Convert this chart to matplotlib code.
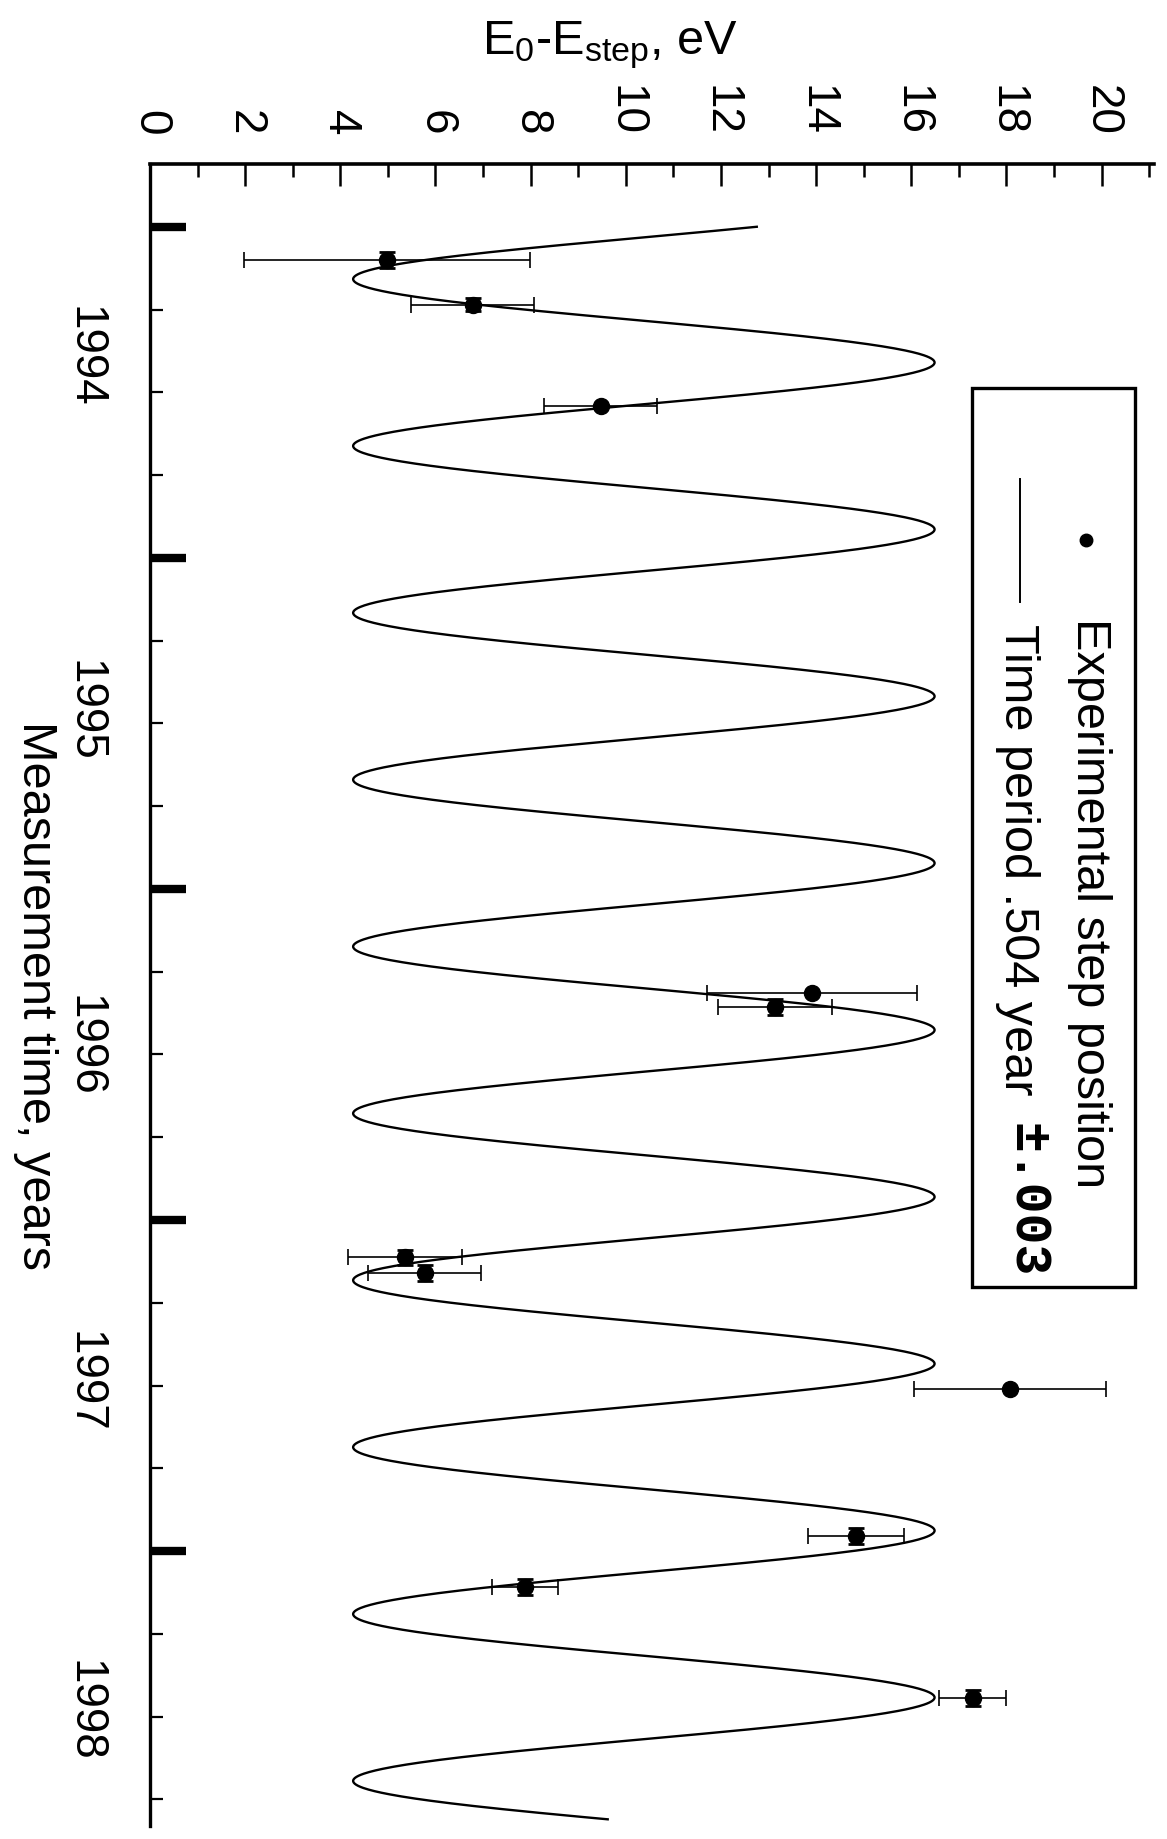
import numpy as np
import matplotlib
matplotlib.use("Agg")
import matplotlib.pyplot as plt
from matplotlib.patches import Rectangle

plt.rcParams['font.family'] = ['Liberation Sans', 'DejaVu Sans']
plt.rcParams['mathtext.fontset'] = 'custom'
plt.rcParams['mathtext.rm'] = 'Liberation Sans'
plt.rcParams['mathtext.it'] = 'Liberation Sans:italic'
plt.rcParams['mathtext.bf'] = 'Liberation Sans:bold'
plt.rcParams['mathtext.default'] = 'regular'

# ---- experimental step positions ----
meas_time = [1994.101, 1994.235, 1994.542, 1996.315, 1996.356, 1997.113,
             1997.161, 1997.511, 1997.953, 1998.108, 1998.444]
step_energy = [4.98, 6.78, 9.47, 13.92, 13.13, 5.36, 5.77, 18.07, 14.84, 7.88, 17.29]
energy_err = [3.0, 1.29, 1.18, 2.21, 1.2, 1.2, 1.19, 2.02, 1.0, 0.69, 0.7]
time_err = [0.024, 0.02, 0.0, 0.0, 0.024, 0.024, 0.024, 0.0, 0.024, 0.024, 0.024]

# ---- periodic fit curve: period from legend, other parameters ----
fit_period = 0.504
fit_peak_time = 1994.41
fit_peak_energy = 16.49
fit_trough_energy = 4.27
fit_time_range = [1994.0, 1998.81]

# ---- axes ticks / labels ----
energy_ticks = [0, 2, 4, 6, 8, 10, 12, 14, 16, 18, 20]
energy_minor = [1, 3, 5, 7, 9, 11, 13, 15, 17, 19, 21]
year_ticks = [1994, 1995, 1996, 1997, 1998]
year_labels = ['1994', '1995', '1996', '1997', '1998']
year_label_pos = [1994.39, 1995.46, 1996.47, 1997.485, 1998.48]
quarter_ticks = [1994.25, 1994.5, 1994.75, 1995.25, 1995.5, 1995.75, 1996.25, 1996.5,
                 1996.75, 1997.25, 1997.5, 1997.75, 1998.25, 1998.5, 1998.75]
energy_lim = (0, 21.1)
time_lim = (1998.83, 1993.81)

fig = plt.figure(figsize=(11.67, 18.40), dpi=100)
ax = fig.add_axes([0.1285, 0.0071, 0.8603, 0.9033])

# fit curve
t = np.linspace(fit_time_range[0], fit_time_range[1], 3000)
mid = (fit_peak_energy + fit_trough_energy) / 2
amp = (fit_peak_energy - fit_trough_energy) / 2
e_fit = mid + amp * np.cos(2 * np.pi * (t - fit_peak_time) / fit_period)
ax.plot(e_fit, t, color='black', lw=1.7, zorder=2)

# data with error bars
ax.errorbar(step_energy, meas_time, xerr=energy_err, fmt='o', color='black',
            ms=11.5, capsize=6, elinewidth=1.2, capthick=1.2, zorder=3)
te = np.array(time_err)
mask = te > 0
ax.errorbar(np.array(step_energy)[mask], np.array(meas_time)[mask], yerr=te[mask],
            fmt='none', ecolor='black', capsize=6, elinewidth=1.2, capthick=2.0, zorder=3)

ax.set_xlim(*energy_lim)
ax.set_ylim(*time_lim)

for s in ['right', 'bottom']:
    ax.spines[s].set_visible(False)
ax.spines['left'].set_linewidth(2.4)
ax.spines['top'].set_linewidth(2.6)

# energy axis on top
ax.xaxis.tick_top()
ax.xaxis.set_label_position('top')
ax.set_xticks(energy_ticks)
ax.set_xticks(energy_minor, minor=True)
ax.tick_params(axis='x', which='major', direction='in', length=16, width=1.8,
               labelsize=33, labelrotation=-90, pad=21)
ax.tick_params(axis='x', which='minor', direction='in', length=9, width=1.8)
ax.set_xlabel('E$_0$-E$_{step}$, eV', fontsize=35)
ax.xaxis.set_label_coords(0.458, 1.072)
ax.xaxis.label.set_va('center')

# time axis on left
ax.set_yticks(year_ticks)
ax.set_yticks(quarter_ticks, minor=True)
ax.tick_params(axis='y', which='major', direction='in', length=26, width=6, labelleft=False)
ax.tick_params(axis='y', which='minor', direction='in', length=9, width=1.6)
ax.set_ylabel('Measurement time, years', fontsize=35, rotation=-90)
ax.yaxis.set_label_coords(-0.1145, 0.5)
ax.yaxis.label.set_va('center')
ax.yaxis.label.set_ha('center')

sec = ax.secondary_yaxis('left')
sec.set_yticks(year_label_pos, labels=year_labels)
sec.tick_params(length=0, pad=31, labelsize=33, labelrotation=-90)
sec.spines['left'].set_visible(False)
plt.setp(sec.get_yticklabels(), va='center')

# manual rotated legend
ax.add_patch(Rectangle((0.8187, 0.3243), 0.9811 - 0.8187, 0.8652 - 0.3243,
                       transform=ax.transAxes, fill=False, lw=2.4, ec='black',
                       clip_on=False, zorder=4))
ax.plot([0.9323], [0.7738], 'o', ms=9, color='black', transform=ax.transAxes, clip_on=False)
ax.plot([0.8665, 0.8665], [0.8105, 0.7365], lw=1.4, color='black', transform=ax.transAxes)
ax.text(0.9363, 0.7274, 'Experimental step position', rotation=-90, ha='center', va='top',
        fontsize=35, transform=ax.transAxes)
ax.text(0.8645, 0.7238, 'Time period .504 year', rotation=-90, ha='center', va='top',
        fontsize=35, transform=ax.transAxes)
ax.text(0.8735, 0.4236, '±.003', rotation=-90, ha='center', va='top',
        fontsize=37, family=['Liberation Mono', 'DejaVu Sans Mono'], weight='bold',
        transform=ax.transAxes)

fig.savefig('out.png', dpi=100)
